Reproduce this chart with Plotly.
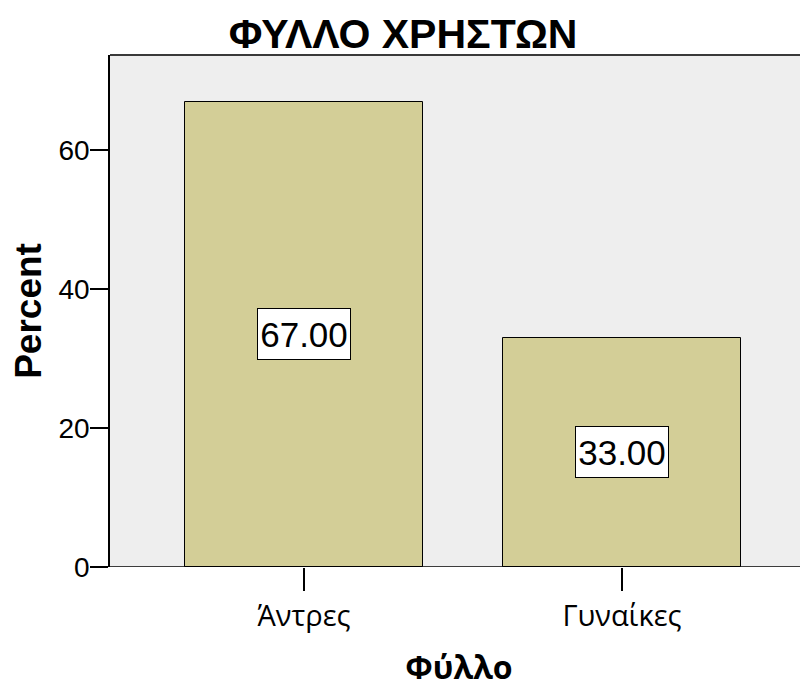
import plotly.graph_objects as go

categories = ["Άντρες", "Γυναίκες"]
percent = [67.00, 33.00]
labels = ["67.00", "33.00"]
y_ticks = [0, 20, 40, 60]

fig = go.Figure()
fig.add_trace(go.Bar(
    x=categories, y=percent, width=0.748,
    marker=dict(color="#D3CE97", line=dict(color="black", width=1)),
    hoverinfo="skip",
))

for c, v, t in zip(categories, percent, labels):
    fig.add_annotation(
        x=c, y=v / 2, text=t, showarrow=False,
        font=dict(family="Liberation Sans, Arial", size=35, color="black"),
        width=88, height=46,
        bgcolor="white", bordercolor="black", borderwidth=1, borderpad=2,
    )

fig.add_shape(type="line", xref="paper", yref="paper", x0=0, x1=1, y0=1, y1=1,
              line=dict(color="#3a3a3a", width=2))

fig.update_layout(
    width=808, height=687,
    margin=dict(l=102, r=8, t=47, b=128),
    paper_bgcolor="white", plot_bgcolor="#EEEEEE",
    showlegend=False, bargap=0,
    title=dict(text="<b>ΦΥΛΛΟ ΧΡΗΣΤΩΝ</b>", x=0.489, xanchor="center", y=0.963, yanchor="middle",
               font=dict(family="Liberation Sans, Arial", size=41, color="black")),
    xaxis=dict(
        type="category", range=[-0.61, 1.585],
        showline=False, showgrid=False, zeroline=False,
        ticks="outside", ticklen=23, tickwidth=1.5, tickcolor="black",
        tickfont=dict(family="Open Sans", size=29, color="black"),
        title=dict(text="<b>Φύλλο</b>", standoff=23,
                   font=dict(family="Open Sans", size=32, color="black")),
    ),
    yaxis=dict(
        range=[0, 73.7], tickvals=y_ticks, showgrid=False, zeroline=False,
        showline=True, linecolor="black", linewidth=1.5,
        ticks="outside", ticklen=18, tickwidth=1.5, tickcolor="black",
        ticklabelstandoff=-5,
        tickfont=dict(family="Liberation Sans, Arial", size=28, color="black"),
        title=dict(text="<b>Percent</b>", standoff=12,
                   font=dict(family="Liberation Sans, Arial", size=37, color="black")),
    ),
)
fig.add_shape(type="line", xref="paper", yref="y", x0=0, x1=1, y0=0, y1=0,
              line=dict(color="black", width=1.5))

fig.write_html("out.html")
